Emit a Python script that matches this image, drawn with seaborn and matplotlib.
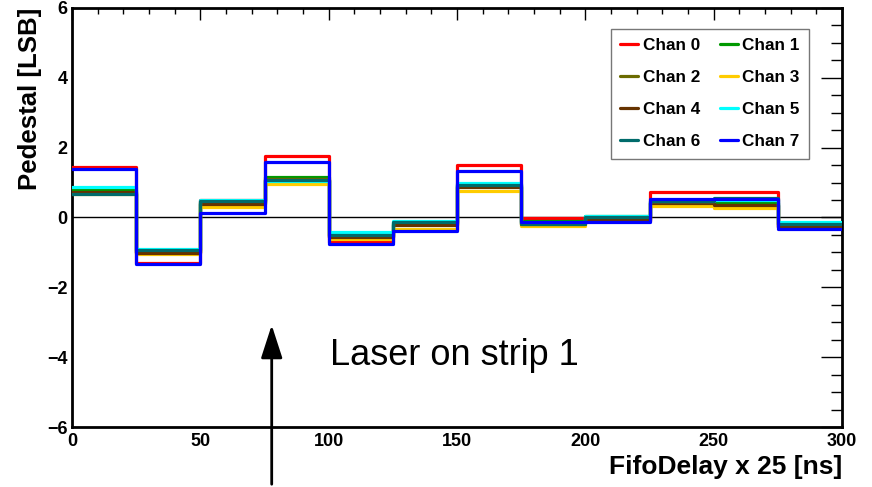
import numpy as np
import pandas as pd
import matplotlib
matplotlib.use("Agg")
import matplotlib.pyplot as plt
import seaborn as sns
from matplotlib.ticker import MultipleLocator

bin_edges = [0, 25, 50, 75, 100, 125, 150, 175, 200, 225, 250, 275, 300]

channels = ["Chan 0", "Chan 1", "Chan 2", "Chan 3", "Chan 4", "Chan 5", "Chan 6", "Chan 7"]
colors = ["#ff0000", "#009900", "#6b6b00", "#ffcc00", "#663300", "#00ffff", "#006b6b", "#0000ff"]

chan0 = [1.43, -1.30, 0.50, 1.75, -0.70, -0.35, 1.50, -0.03, -0.10, 0.72, 0.72, -0.28]
chan1 = [0.78, -0.98, 0.45, 1.17, -0.52, -0.15, 0.97, -0.10, 0.03, 0.45, 0.42, -0.18]
chan2 = [0.70, -1.00, 0.40, 1.10, -0.55, -0.20, 0.90, -0.15, -0.05, 0.40, 0.35, -0.25]
chan3 = [0.68, -1.06, 0.30, 0.95, -0.62, -0.32, 0.75, -0.25, -0.10, 0.33, 0.28, -0.28]
chan4 = [0.72, -1.02, 0.38, 1.08, -0.55, -0.22, 0.88, -0.18, -0.08, 0.40, 0.36, -0.26]
chan5 = [0.86, -0.90, 0.50, 1.05, -0.41, -0.10, 1.00, -0.15, 0.03, 0.48, 0.50, -0.13]
chan6 = [0.66, -0.93, 0.46, 1.08, -0.50, -0.12, 0.93, -0.18, 0.00, 0.47, 0.55, -0.20]
chan7 = [1.40, -1.33, 0.13, 1.58, -0.75, -0.38, 1.33, -0.13, -0.13, 0.54, 0.54, -0.32]

all_vals = [chan0, chan1, chan2, chan3, chan4, chan5, chan6, chan7]

# long table, last value repeated at the right edge for steps-post
rows = []
for name, vals in zip(channels, all_vals):
    ys = vals + [vals[-1]]
    for x, y in zip(bin_edges, ys):
        rows.append({"x": x, "y": y, "chan": name})
df = pd.DataFrame(rows)

sns.set_theme(style="white")
plt.rcParams["font.family"] = ["Liberation Sans", "DejaVu Sans"]
plt.rcParams["text.color"] = "black"
plt.rcParams["axes.labelcolor"] = "black"

fig = plt.figure(figsize=(8.72, 4.87), dpi=100)
ax = fig.add_axes([0.0826, 0.123, 0.883, 0.861])

ax.axhline(0, color="black", lw=1, zorder=1)

sns.lineplot(data=df, x="x", y="y", hue="chan", palette=colors, hue_order=channels,
             drawstyle="steps-post", estimator=None, lw=2.3, ax=ax, zorder=3)

ax.set_xlim(0, 300)
ax.set_ylim(-6, 6)
ax.xaxis.set_major_locator(MultipleLocator(50))
ax.xaxis.set_minor_locator(MultipleLocator(10))
ax.yaxis.set_major_locator(MultipleLocator(2))
ax.yaxis.set_minor_locator(MultipleLocator(0.5))
ax.tick_params(axis="both", which="both", direction="in", top=True, right=True,
               colors="black", labelsize=13, width=1)
ax.tick_params(axis="x", which="major", length=8.5, pad=4)
ax.tick_params(axis="x", which="minor", length=4.5)
ax.tick_params(axis="y", which="major", length=15, pad=3)
ax.tick_params(axis="y", which="minor", length=8)
for lab in ax.get_xticklabels() + ax.get_yticklabels():
    lab.set_fontweight("bold")
for sp in ax.spines.values():
    sp.set_color("black")
    sp.set_linewidth(2)

ax.set_xlabel("FifoDelay x 25 [ns]", fontsize=19, fontweight="bold", loc="right",
              labelpad=4, color="black")
ax.set_ylabel("Pedestal [LSB]", fontsize=18.5, fontweight="bold", loc="top",
              labelpad=4, color="black")

# row-major legend order like the reference
handles, labels = ax.get_legend_handles_labels()
order = [0, 2, 4, 6, 1, 3, 5, 7]
leg = ax.legend([handles[i] for i in order], [labels[i] for i in order],
                ncol=2, loc="upper right", bbox_to_anchor=(0.957, 0.95), borderaxespad=0,
                frameon=True, fancybox=False, edgecolor="#555555", fontsize=12.3,
                handlelength=1.05, handletextpad=0.25, columnspacing=1.17,
                labelspacing=1.0, borderpad=0.55)
leg.get_frame().set_linewidth(1)
for t in leg.get_texts():
    t.set_fontweight("bold")
    t.set_color("black")

ax.text(100.5, -3.95, "Laser on strip 1", fontsize=26, va="center", ha="left", color="black")
ax.annotate("", xy=(77.8, -3.0), xycoords="data",
            xytext=(77.8, 0.0), textcoords=("data", "figure fraction"),
            arrowprops=dict(arrowstyle="-|>,head_length=1.7,head_width=0.55",
                            color="black", lw=2), annotation_clip=False)

fig.savefig("out.png", dpi=100)
